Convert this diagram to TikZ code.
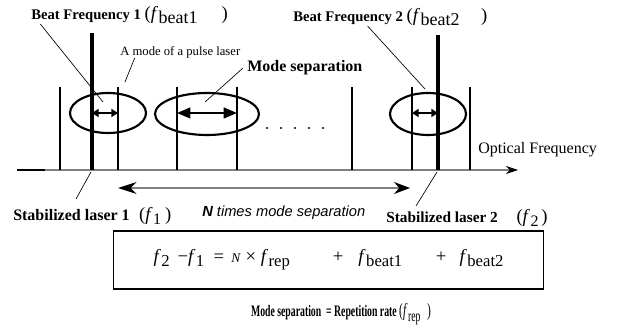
\documentclass[tikz,border=0pt]{standalone}
\usepackage{fontspec}
\setmainfont{Liberation Serif}[ItalicFont={Liberation Serif Italic}]
\setsansfont{Liberation Sans}
\usetikzlibrary{arrows.meta,shapes.geometric}
\newcommand{\fq}[2][10]{\textit{f}\kern0.4pt\raisebox{-0.5ex}{\fontsize{#1}{#1}\selectfont #2}}

\begin{document}
\begin{tikzpicture}[x=0.75pt, y=-0.75pt,
  mode/.style={line width=1.5pt},
  laser/.style={line width=2.3pt},
  ring/.style={draw, ellipse, line width=1.6pt, inner sep=0pt},
  lead/.style={line width=0.5pt},
  beat/.style={line width=1.4pt, {Triangle[length=5pt,width=6pt]}-{Triangle[length=5pt,width=6pt]}},
  sep/.style={line width=1.6pt, {Triangle[length=10pt,width=8pt]}-{Triangle[length=10pt,width=8pt]}},
  bold/.style={font=\fontsize{11.5}{13}\selectfont\bfseries, inner sep=0pt, anchor=west},
  plain/.style={font=\fontsize{9.5}{11}\selectfont, inner sep=0pt, anchor=west}]
\useasboundingbox (0,0) rectangle (630,327);
% frequency axis
\coordinate (ax0) at (17,170);
\coordinate (ax1) at (45,170);
\coordinate (ax2) at (518,170);
\draw[line width=1.8pt] (ax0) -- (ax1);
\draw[gray, line width=0.8pt, -{Stealth[black,length=9pt,width=6pt]}] (ax1) -- (ax2);
% comb modes and lasers
\foreach \x in {60,118,177,237,352,412,470}
  \draw[mode] (\x,87) -- (\x,170);
\draw[laser] (92,33) -- (92,170);
\draw[laser] (438,35) -- (438,170);
\foreach \x in {267,281,295,309,323}
  \fill (\x,128) circle (0.9pt);
% rings
\node[ring, minimum width=57pt, minimum height=30pt] (e1) at (108,113) {};
\node[ring, minimum width=78pt, minimum height=31.5pt] (e2) at (207,114) {};
\node[ring, minimum width=57pt, minimum height=31.5pt] (e3) at (428,114) {};
\coordinate (b1l) at (92,113);  \coordinate (b1r) at (118,113);
\coordinate (s1l) at (177,113); \coordinate (s1r) at (237,113);
\coordinate (b2l) at (412,113); \coordinate (b2r) at (438,113);
\draw[beat] (b1l) -- (b1r);
\draw[sep] (s1l) -- (s1r);
\draw[beat] (b2l) -- (b2r);
% labels
\node[bold, font=\fontsize{11}{13}\selectfont\bfseries] (bf1) at (31,15) {Beat Frequency 1 {\mdseries\fontsize{14}{14}\selectfont(\fq[13.5]{beat1}\hspace{18pt})}};
\node[bold, font=\fontsize{11}{13}\selectfont\bfseries] (bf2) at (293,17) {Beat Frequency 2 {\mdseries\fontsize{14}{14}\selectfont(\fq[13.5]{beat2}\hspace{16pt})}};
\node[plain] (pulse) at (120,52) {A mode of a pulse laser};
\node[bold, font=\fontsize{12}{14}\selectfont\bfseries] (msep) at (247,68) {Mode separation};
\node[plain, font=\fontsize{12}{14}\selectfont] (optf) at (478,150) {Optical Frequency};
\node[bold, font=\fontsize{12}{14}\selectfont\bfseries] (sl1) at (13,216) {Stabilized laser 1\hspace{7pt}{\mdseries\fontsize{14}{14}\selectfont(\fq[12]{1}\hspace{3pt})}};
\node[bold] (sl2) at (386,218) {Stabilized laser 2\hspace{14pt}{\mdseries\fontsize{14}{14}\selectfont(\fq[12]{2}\hspace{2pt})}};
\node[plain, font=\fontsize{11}{13}\selectfont\sffamily\itshape] (ntimes) at (202,213) {\textbf{N} times mode separation};
% leaders
\coordinate (bf1t) at (103,102);
\coordinate (pt) at (125,82);
\coordinate (mst) at (205,102);
\coordinate (bf2t) at (425,89);
\coordinate (l1f) at (91,172);  \coordinate (sl1t) at (76,199);
\coordinate (l2f) at (437,172); \coordinate (sl2t) at (416,206);
\draw[lead] ([xshift=7pt]bf1.south west) -- (bf1t);
\draw[lead] ([xshift=11pt]pulse.south west) -- (pt);
\draw[lead] ([xshift=-3pt]msep.west) -- (mst);
\draw[lead] ([xshift=-17pt]bf2.south) -- (bf2t);
\draw[lead] (l1f) -- (sl1t);
\draw[lead] (l2f) -- (sl2t);
% N times arrow
\coordinate (nl) at (118,188);
\coordinate (nr) at (410,188);
\draw[gray, line width=0.8pt, {Stealth[black,length=14pt,width=9pt]}-{Stealth[black,length=12pt,width=9pt]}] (nl) -- (nr);
% relation
\node[draw, line width=0.8pt, minimum width=323pt, minimum height=43.5pt, font=\fontsize{14}{16}\selectfont] (eq) at (328.5,260)
  {\raisebox{-7.5pt}{\fq[12.5]{2} \,−\fq[12.5]{1} \ = \hspace{2pt}{\fontsize{10}{10}\selectfont\textit{N}} × \fq[12.5]{rep}\hspace{2.3em}+\hspace{0.8em}\fq[12.5]{beat1}\hspace{1.8em}+\hspace{0.7em}\fq[12.5]{beat2}}};
\node[font=\fontsize{12}{14}\selectfont\bfseries\addfontfeatures{FakeStretch=0.61}, inner sep=0pt] (rep) at (341,314)
  {Mode separation \ = Repetition rate {\mdseries\fontsize{14}{14}\selectfont(\fq[12]{rep}\hspace{5pt})}};
\end{tikzpicture}
\end{document}
